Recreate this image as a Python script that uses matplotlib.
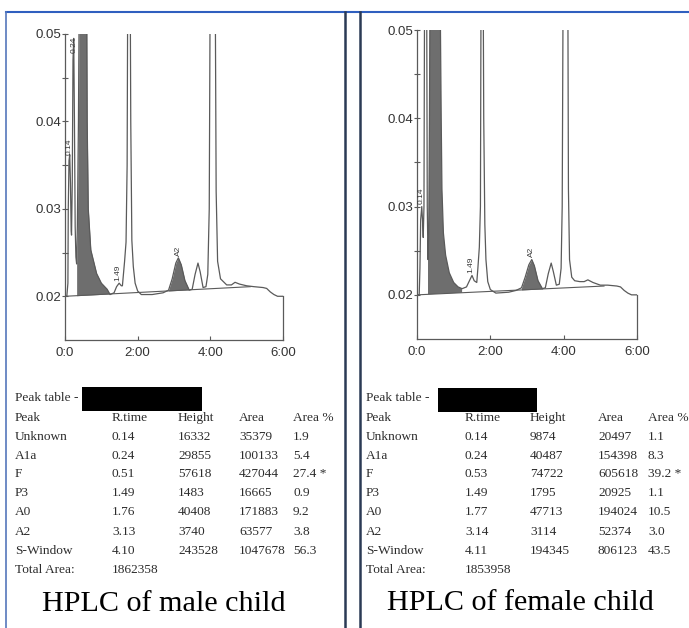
import numpy as np
import matplotlib.pyplot as plt
from matplotlib.patches import Rectangle
from matplotlib.lines import Line2D
from matplotlib.ticker import FixedLocator

# chromatogram traces (time in min, absorbance)
male_t = [0.00, 0.05, 0.08, 0.09, 0.11, 0.13, 0.15, 0.17, 0.18, 0.20, 0.22, 0.24, 0.26, 0.28,
          0.30, 0.32, 0.34, 0.37, 0.40, 0.51, 0.58, 0.60, 0.61, 0.64, 0.71, 0.87, 1.00, 1.16,
          1.24, 1.35, 1.42, 1.49, 1.55, 1.58, 1.64, 1.68, 1.71, 1.73, 1.76, 1.79, 1.81, 1.84,
          1.88, 1.93, 2.00, 2.10, 2.40, 2.70, 2.85, 2.95, 3.05, 3.12, 3.20, 3.30, 3.42, 3.50,
          3.58, 3.66, 3.72, 3.80, 3.88, 3.93, 3.97, 4.00, 4.07, 4.13, 4.16, 4.20, 4.28, 4.45,
          4.58, 4.68, 4.80, 5.00, 5.20, 5.45, 5.55, 5.65, 5.75, 5.85, 6.00]
male_v = [0.0200, 0.0200, 0.0215, 0.0300, 0.0355, 0.0362, 0.0330, 0.0275, 0.0270, 0.0330, 0.0470,
          0.0495, 0.0400, 0.0280, 0.0245, 0.0237, 0.0280, 0.0400, 0.0600, 0.0780, 0.0600, 0.0500,
          0.0400, 0.0300, 0.0253, 0.0226, 0.0215, 0.0208, 0.0202, 0.0204, 0.0211, 0.0215, 0.0212,
          0.0212, 0.0240, 0.0262, 0.0350, 0.0600, 0.0700, 0.0600, 0.0400, 0.0264, 0.0234, 0.0215,
          0.0206, 0.0202, 0.0202, 0.0204, 0.0207, 0.0220, 0.0238, 0.0244, 0.0236, 0.0218, 0.0207,
          0.0208, 0.0225, 0.0238, 0.0228, 0.0210, 0.0211, 0.0225, 0.0300, 0.0600, 0.1000, 0.0600,
          0.0320, 0.0240, 0.0220, 0.0213, 0.0213, 0.0216, 0.0214, 0.0212, 0.0211, 0.0210, 0.0209,
          0.0205, 0.0202, 0.0200, 0.0200]

female_t = [0.00, 0.06, 0.08, 0.10, 0.13, 0.15, 0.17, 0.19, 0.21, 0.24, 0.26, 0.28, 0.30, 0.32,
            0.34, 0.36, 0.53, 0.62, 0.64, 0.66, 0.68, 0.72, 0.78, 0.88, 1.00, 1.12, 1.23, 1.35,
            1.43, 1.50, 1.56, 1.63, 1.66, 1.70, 1.73, 1.75, 1.77, 1.80, 1.82, 1.85, 1.88, 1.93,
            2.00, 2.15, 2.50, 2.70, 2.85, 2.95, 3.05, 3.13, 3.20, 3.30, 3.42, 3.50, 3.58, 3.66,
            3.72, 3.80, 3.88, 3.93, 3.96, 3.99, 4.05, 4.11, 4.13, 4.16, 4.22, 4.30, 4.44, 4.56,
            4.66, 4.80, 5.00, 5.20, 5.45, 5.55, 5.65, 5.75, 5.85, 6.00]
female_v = [0.0200, 0.0200, 0.0230, 0.0285, 0.0300, 0.0285, 0.0265, 0.0300, 0.0600, 0.0700,
            0.0600, 0.0300, 0.0240, 0.0270, 0.0400, 0.0600, 0.0950, 0.0600, 0.0500, 0.0400,
            0.0320, 0.0270, 0.0245, 0.0225, 0.0214, 0.0209, 0.0207, 0.0209, 0.0216, 0.0222,
            0.0216, 0.0214, 0.0230, 0.0254, 0.0300, 0.0600, 0.0700, 0.0600, 0.0400, 0.0280,
            0.0240, 0.0215, 0.0206, 0.0202, 0.0203, 0.0205, 0.0208, 0.0220, 0.0234, 0.0240,
            0.0233, 0.0216, 0.0207, 0.0208, 0.0224, 0.0236, 0.0226, 0.0211, 0.0212, 0.0230,
            0.0300, 0.0600, 0.0900, 0.0600, 0.0320, 0.0240, 0.0220, 0.0216, 0.0215, 0.0215,
            0.0217, 0.0214, 0.0211, 0.0211, 0.0210, 0.0209, 0.0205, 0.0202, 0.0200, 0.0200]

# integration baseline end points
base_t = [0.0, 5.1]
male_base = [0.0200, 0.0211]
female_base = [0.0200, 0.0210]

# shaded peaks (F and A2): start / end time
male_fills = [(0.32, 1.24), (2.85, 3.42)]
female_fills = [(0.30, 1.23), (2.85, 3.42)]

# peak labels: text, time, level
male_marks = [('0.14', 0.11, 0.0362), ('0.24', 0.25, 0.0478), ('1.49', 1.46, 0.0218), ('A2', 3.12, 0.0246)]
female_marks = [('0.14', 0.11, 0.0303), ('1.49', 1.47, 0.0225), ('A2', 3.11, 0.0243)]

# peak tables
peaks = ['Unknown', 'A1a', 'F', 'P3', 'A0', 'A2', 'S-Window']
male_rtime = ['0.14', '0.24', '0.51', '1.49', '1.76', '3.13', '4.10']
male_height = [16332, 29855, 57618, 1483, 40408, 3740, 243528]
male_area = [35379, 100133, 427044, 16665, 171883, 63577, 1047678]
male_pct = ['1.9', '5.4', '27.4 *', '0.9', '9.2', '3.8', '56.3']
male_total = 1862358
female_rtime = ['0.14', '0.24', '0.53', '1.49', '1.77', '3.14', '4.11']
female_height = [9874, 40487, 74722, 1795, 47713, 3114, 194345]
female_area = [20497, 154398, 605618, 20925, 194024, 52374, 806123]
female_pct = ['1.1', '8.3', '39.2 *', '1.1', '10.5', '3.0', '43.5']
female_total = 1853958

W, H = 689, 628
LINE = '#5a5a5a'
FILL = '#6e6e6e'


def fx(px):
    return px / W


def fy(py):
    return 1 - py / H


def draw_chrom(ax, t, v, base, fills, marks):
    t = np.array(t)
    v = np.array(v)
    bl = np.interp(t, base_t, base)
    for a, b in fills:
        m = (t >= a) & (t <= b)
        ax.fill_between(t[m], v[m], bl[m], color=FILL, lw=0)
    ax.plot(base_t, base, color=LINE, lw=0.8)
    ax.plot(t, v, color=LINE, lw=0.9)
    for txt, xt, yt in marks:
        ax.text(xt, yt, txt, rotation=90, fontsize=6, ha='center', va='bottom',
                color='#3a3a3a', clip_on=False, family='Liberation Sans')

    ax.set_xlim(0, 6.0)
    ax.set_ylim(0.015, 0.05)
    ax.spines['top'].set_visible(False)
    ax.spines['right'].set_bounds(0.015, 0.02)
    for s in ['left', 'bottom', 'right']:
        ax.spines[s].set_color(LINE)
        ax.spines[s].set_linewidth(0.9)
    ax.set_xticks([0, 2, 4, 6])
    ax.set_xticklabels(['0:0', '2:00', '4:00', '6:00'])
    ax.set_yticks([0.02, 0.03, 0.04, 0.05])
    ax.set_yticklabels(['0.02', '0.03', '0.04', '0.05'])
    ax.yaxis.set_minor_locator(FixedLocator([0.025, 0.035, 0.045]))
    ax.tick_params(axis='y', which='both', direction='inout', length=4, width=0.8,
                   color=LINE, labelsize=9.5, labelcolor='#333333', pad=1)
    ax.tick_params(axis='x', direction='in', length=3, width=0.8, color=LINE,
                   labelsize=9.5, labelcolor='#333333', pad=5)
    ax.tick_params(right=False)
    for lab in ax.get_xticklabels() + ax.get_yticklabels():
        lab.set_family('Liberation Sans')
    ax.patch.set_alpha(0)


def draw_table(x0, cols, rtime, height, area, pct, total, box):
    ys = [418, 437, 456, 474, 493, 512, 532, 551, 570]
    kw = dict(fontsize=9.6, family='Liberation Serif', color='#2c2c2c', va='center')
    fig.text(fx(x0), fy(398), 'Peak table -', **kw)
    heads = ['Peak', 'R.time', 'Height', 'Area', 'Area %']
    for c, h in zip(cols, heads):
        fig.text(fx(c), fy(ys[0]), h, **kw)
    for i in range(len(peaks)):
        row = [peaks[i], rtime[i], str(height[i]), str(area[i]), pct[i]]
        for c, val in zip(cols, row):
            fig.text(fx(c), fy(ys[i + 1]), val, **kw)
    fig.text(fx(cols[0]), fy(ys[-1]), 'Total Area:', **kw)
    fig.text(fx(cols[1]), fy(ys[-1]), str(total), **kw)
    bx0, by0, bx1, by1 = box
    fig.patches.append(Rectangle((fx(bx0), fy(by1)), fx(bx1 - bx0), (by1 - by0) / H,
                                 transform=fig.transFigure, facecolor='black', edgecolor='none'))


fig = plt.figure(figsize=(W / 100, H / 100), dpi=100)

ax1 = fig.add_axes([fx(65), fy(340), fx(283 - 65), (340 - 34) / H])
draw_chrom(ax1, male_t, male_v, male_base, male_fills, male_marks)

ax2 = fig.add_axes([fx(417), fy(339), fx(637 - 417), (339 - 30) / H])
draw_chrom(ax2, female_t, female_v, female_base, female_fills, female_marks)

draw_table(15, [15, 112, 178, 239, 293], male_rtime, male_height, male_area, male_pct,
           male_total, (82, 387, 202, 411))
draw_table(366, [366, 465, 530, 598, 648], female_rtime, female_height, female_area,
           female_pct, female_total, (438, 388, 537, 412))

fig.text(fx(164), fy(604), 'HPLC of male child', fontsize=21.7, family='Liberation Serif',
         color='black', ha='center', va='center')
fig.text(fx(520), fy(603), 'HPLC of female child', fontsize=21.7, family='Liberation Serif',
         color='black', ha='center', va='center')

# panel frame lines
fig.add_artist(Line2D([fx(6), fx(689)], [fy(12), fy(12)], color='#2f5fbf', lw=1.5))
fig.add_artist(Line2D([fx(6), fx(6)], [fy(12), 0], color='#5577bb', lw=1.2))
fig.add_artist(Line2D([fx(345), fx(345)], [fy(12), 0], color='#2b3a55', lw=1.8))
fig.add_artist(Line2D([fx(360), fx(360)], [fy(12), 0], color='#2b3a55', lw=1.8))

fig.savefig('out.png', dpi=100)
